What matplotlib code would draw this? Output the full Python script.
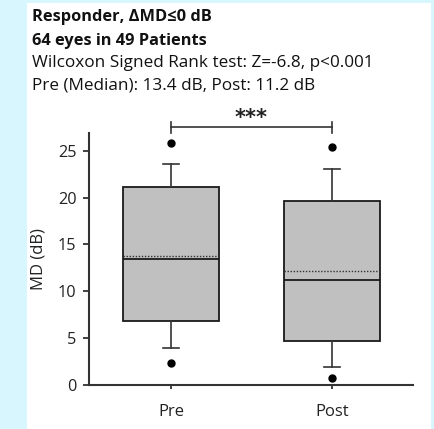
import matplotlib
matplotlib.use("Agg")
import matplotlib.pyplot as plt
from matplotlib.patches import Rectangle

plt.rcParams['font.family'] = ['Open Sans', 'DejaVu Sans']

# box statistics (dB)
groups = ["Pre", "Post"]
q1 = [6.8, 4.75]
med = [13.4, 11.2]
q3 = [21.15, 19.65]
mean = [13.8, 12.15]
whislo = [3.9, 1.9]
whishi = [23.6, 23.1]
fliers = [[2.4, 25.8], [0.8, 25.4]]

title_lines = ["Responder, \u0394MD\u22640 dB", "64 eyes in 49 Patients"]
info_lines = ["Wilcoxon Signed Rank test: Z=-6.8, p<0.001",
              "Pre (Median): 13.4 dB, Post: 11.2 dB"]
yticks = [0, 5, 10, 15, 20, 25]

W, H = 434, 429
fig = plt.figure(figsize=(W / 100, H / 100), dpi=100)
fig.patch.set_facecolor('#d8f6fe')
# white panel
fig.add_artist(Rectangle((27 / W, 0), (431 - 27) / W, (H - 3) / H,
                         transform=fig.transFigure, facecolor='white',
                         edgecolor='none', zorder=0))

ax = fig.add_axes([89 / W, 44 / H, (413 - 89) / W, 252 / H])
ax.set_facecolor('none')

stats = []
for i, g in enumerate(groups):
    stats.append(dict(label=g, q1=q1[i], med=med[i], q3=q3[i], mean=mean[i],
                      whislo=whislo[i], whishi=whishi[i], fliers=fliers[i]))

ax.bxp(stats, positions=[1, 2], widths=0.6, patch_artist=True,
       showmeans=True, meanline=True, capwidths=0.1,
       boxprops=dict(facecolor='#c0c0c0', edgecolor='#1a1a1a', linewidth=1.3),
       medianprops=dict(color='#1a1a1a', linewidth=1.3),
       meanprops=dict(color='#333333', linestyle=(0, (1, 1.2)), linewidth=1.0),
       whiskerprops=dict(color='#333333', linewidth=1.2),
       capprops=dict(color='#333333', linewidth=1.2),
       flierprops=dict(marker='o', markerfacecolor='black', markeredgecolor='black',
                       markersize=5))

ax.set_xlim(0.491, 2.503)
ax.set_ylim(0, 26.9)
ax.set_yticks(yticks)
ax.set_ylabel("MD (dB)", fontsize=12, color='#222222', labelpad=8)

for s in ['top', 'right']:
    ax.spines[s].set_visible(False)
for s in ['left', 'bottom']:
    ax.spines[s].set_color('#333333')
    ax.spines[s].set_linewidth(1.5)
ax.tick_params(axis='y', length=4, width=1.3, color='#333333', labelsize=11.7,
               labelcolor='#222222', pad=5)
ax.tick_params(axis='x', length=3, width=1.3, color='#333333', labelsize=12,
               labelcolor='#222222', pad=11)

# significance bracket
ax.plot([1, 2], [27.5, 27.5], color='#333333', lw=1.2, clip_on=False)
for x in [1, 2]:
    ax.plot([x, x], [26.95, 28.05], color='#333333', lw=1.2, clip_on=False)
ax.text(1.5, 28.55, "***", ha='center', va='center', fontsize=15,
        fontweight='bold', color='#222222', clip_on=False,
        family=['DejaVu Sans'])

ys = [17, 41, 63, 86]
for txt, y in zip(title_lines, ys[:2]):
    fig.text(32 / W, 1 - y / H, txt, fontsize=11.8, fontweight='bold',
             va='center', ha='left', color='#111111')
for txt, y in zip(info_lines, ys[2:]):
    fig.text(32 / W, 1 - y / H, txt, fontsize=12.3, va='center', ha='left',
             color='#111111')

fig.savefig("out.png", dpi=100, facecolor=fig.get_facecolor())
